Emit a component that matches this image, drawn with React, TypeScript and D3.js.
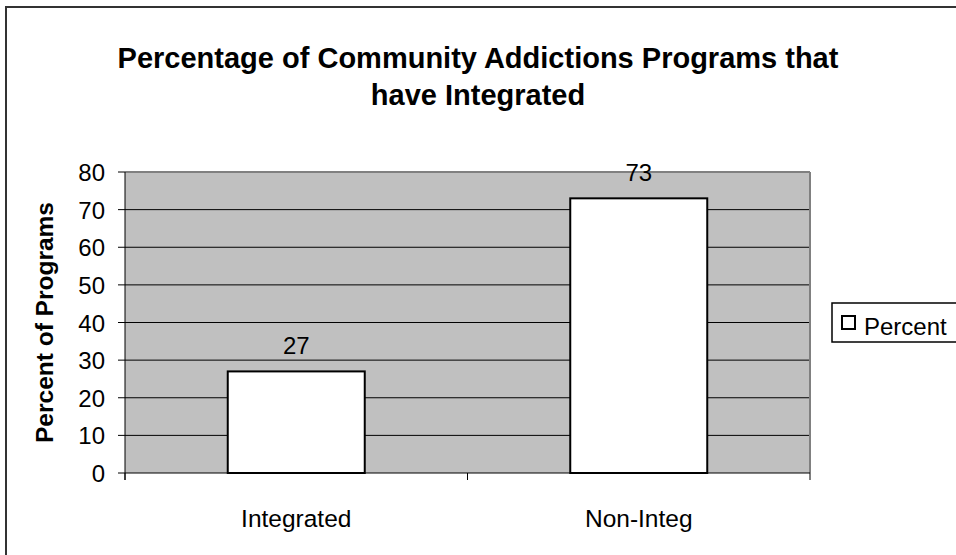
import React from "react";
import * as d3 from "d3";

const categories = ["Integrated", "Non-Integ"];
const percentValues = [27, 73];
const yTicks = [0, 10, 20, 30, 40, 50, 60, 70, 80];
const titleLines = ["Percentage of Community Addictions Programs that", "have Integrated"];
const seriesName = "Percent";
const yAxisTitle = "Percent of Programs";

const W = 956;
const H = 555;
const FONT = "'Liberation Sans', Arial, sans-serif";

export default function App() {
  const left = 125, right = 810, top = 172, bottom = 473;
  const x = d3.scaleBand<string>().domain(categories).range([left, right]).paddingInner(0.6).paddingOuter(0.3);
  const y = d3.scaleLinear().domain([0, 80]).range([bottom, top]);
  const step = x.step();
  const boundaries = [left, ...categories.map((c) => (x(c) as number) - step * 0.3 + step)];

  return (
    <svg width={W} height={H} style={{ position: "absolute", left: 0, top: 0 }} fontFamily={FONT}>
      <rect x={0} y={0} width={W} height={H} fill="#fff" />
      <rect x={6} y={7} width={W + 20} height={H + 20} fill="none" stroke="#333" strokeWidth={2} />
      {titleLines.map((t, i) => (
        <text key={i} x={478} y={68 + i * 37} textAnchor="middle" fontWeight="bold" fontSize={29} fill="#000">
          {t}
        </text>
      ))}
      <rect x={left} y={top} width={right - left} height={bottom - top} fill="#C0C0C0" />
      {yTicks.filter((v) => v > 0 && v < 80).map((v) => (
        <line key={v} x1={left} x2={right} y1={y(v)} y2={y(v)} stroke="#000" strokeWidth={1} />
      ))}
      <line x1={left} x2={right} y1={top} y2={top} stroke="#808080" strokeWidth={2} />
      <line x1={right} x2={right} y1={top} y2={bottom} stroke="#808080" strokeWidth={2} />
      {categories.map((c, i) => (
        <g key={c}>
          <rect x={x(c)} y={y(percentValues[i])} width={x.bandwidth()} height={bottom - y(percentValues[i])} fill="#fff" stroke="#000" strokeWidth={2} />
          <text x={(x(c) as number) + x.bandwidth() / 2} y={y(percentValues[i]) - 17} textAnchor="middle" fontSize={24} fill="#000">
            {percentValues[i]}
          </text>
          <text x={(x(c) as number) + x.bandwidth() / 2} y={527} textAnchor="middle" fontSize={24.5} fill="#000">
            {c}
          </text>
        </g>
      ))}
      <line x1={left} x2={left} y1={top} y2={bottom + 7} stroke="#000" strokeWidth={1} />
      <line x1={left} x2={right} y1={bottom} y2={bottom} stroke="#000" strokeWidth={1} />
      {yTicks.map((v) => (
        <g key={v}>
          <line x1={left - 7} x2={left} y1={y(v)} y2={y(v)} stroke="#000" strokeWidth={1} />
          <text x={105} y={y(v) + 9} textAnchor="end" fontSize={24} fill="#000">
            {v}
          </text>
        </g>
      ))}
      {boundaries.map((b, i) => (
        <line key={i} x1={b} x2={b} y1={bottom} y2={bottom + 7} stroke="#000" strokeWidth={1} />
      ))}
      <text transform={`translate(53,${(top + bottom) / 2}) rotate(-90)`} textAnchor="middle" fontWeight="bold" fontSize={24.5} fill="#000">
        {yAxisTitle}
      </text>
      <rect x={832} y={303} width={140} height={39} fill="#fff" stroke="#000" strokeWidth={1.5} />
      <rect x={842} y={316} width={13} height={13} fill="#fff" stroke="#000" strokeWidth={2} />
      <text x={864} y={335} fontSize={24} fill="#000">{seriesName}</text>
    </svg>
  );
}
